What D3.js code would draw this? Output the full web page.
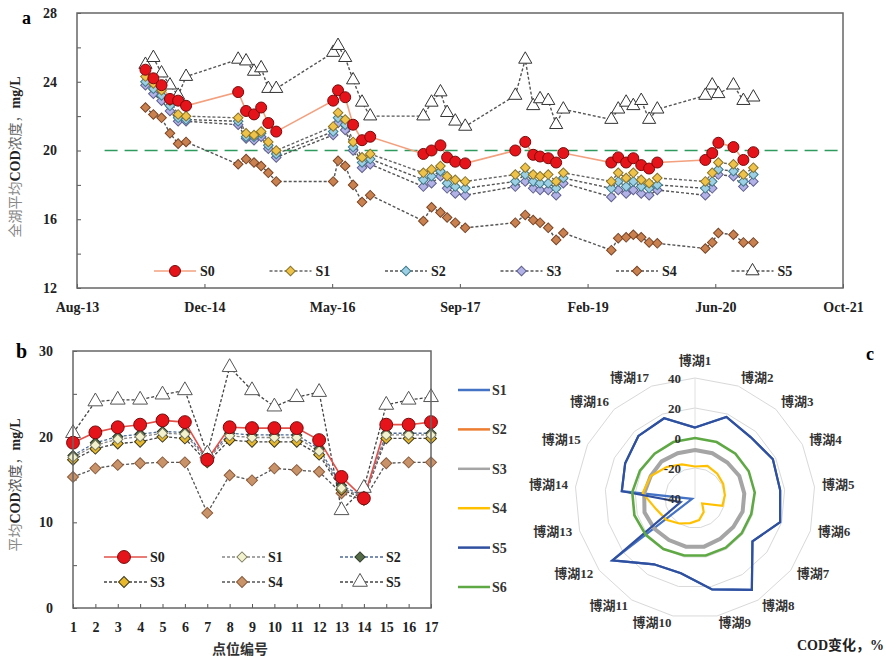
<!DOCTYPE html>
<html>
<head>
<meta charset="utf-8">
<script src="https://cdn.jsdelivr.net/npm/d3@7"></script>
<style>
  body { margin: 0; background: #fff; }
  svg text { font-family: "Liberation Serif", "Noto Sans CJK SC", serif; }
</style>
</head>
<body>
<svg id="chart" width="886" height="658"></svg>
<script>
// ---------- data : panel a (whole-lake mean COD by date) ----------
const seriesNames = ["S0", "S1", "S2", "S3", "S4", "S5"];
const datesA = [
  "2014-05-10","2014-06-10","2014-07-12","2014-08-14","2014-09-15","2014-10-16",
  "2015-05-08","2015-06-08","2015-07-09","2015-08-06","2015-09-03","2015-10-04",
  "2016-05-14","2016-06-02","2016-06-30","2016-07-31","2016-09-04","2016-10-06",
  "2017-05-02","2017-06-03","2017-07-08","2017-08-03","2017-09-04","2017-10-13",
  "2018-04-27","2018-06-05","2018-07-06","2018-08-02","2018-09-03","2018-10-04","2018-11-01",
  "2019-05-08","2019-06-04","2019-07-05","2019-08-02","2019-09-02","2019-10-03","2019-11-04",
  "2020-05-10","2020-06-06","2020-06-30","2020-08-28","2020-10-06","2020-11-14"
];
const a_S0 = [24.7,24.2,23.8,23.0,22.9,22.6, 23.4,22.3,22.1,22.5,21.6,21.1, 22.9,23.5,23.1,21.5,20.6,20.8,
  19.8,20.0,20.3,19.6,19.35,19.25, 20.0,20.5,19.75,19.65,19.55,19.3,19.85, 19.3,19.6,19.3,19.55,19.15,18.95,19.3,
  19.45,19.85,20.45,20.2,19.45,19.9];
const a_S1 = [24.3,23.9,23.5,22.9,22.1,22.0, 21.9,21.0,20.9,21.1,20.5,20.0, 21.4,22.2,21.8,20.5,19.6,19.8,
  18.7,18.9,19.1,18.5,18.3,18.2, 18.6,19.0,18.6,18.5,18.6,18.2,18.7, 18.2,18.7,18.4,18.7,18.3,18.1,18.4,
  18.2,18.7,19.3,19.2,18.6,19.0];
const a_S2 = [24.0,23.6,23.2,22.6,21.9,21.8, 21.7,20.8,20.8,21.0,20.3,19.8, 21.1,21.9,21.5,20.2,19.3,19.5,
  18.3,18.5,18.8,18.1,17.9,17.8, 18.2,18.6,18.2,18.1,18.1,17.8,18.4, 17.8,18.2,17.9,18.2,17.9,17.8,18.0,
  17.8,18.2,18.9,18.8,18.2,18.6];
const a_S3 = [23.8,23.3,22.9,22.3,21.7,21.7, 21.5,20.7,20.6,20.8,20.1,19.6, 20.9,21.6,21.2,20.0,19.0,19.2,
  17.9,18.1,18.5,17.8,17.5,17.4, 17.9,18.2,17.8,17.7,17.7,17.4,18.1, 17.3,17.7,17.5,17.7,17.5,17.4,17.7,
  17.4,17.8,18.6,18.5,17.9,18.2];
const a_S4 = [22.5,22.1,21.9,21.0,20.4,20.5, 19.2,19.5,19.3,19.1,18.7,18.2, 18.2,19.4,19.1,18.0,17.0,17.4,
  15.9,16.7,16.4,16.1,15.8,15.5, 15.8,16.25,15.95,15.8,15.5,14.8,15.2, 14.2,14.9,14.95,15.1,14.95,14.65,14.6,
  14.3,14.65,15.2,15.1,14.65,14.65];
const a_S5 = [25.0,25.4,24.5,23.8,23.2,24.3, 25.3,25.2,24.6,24.8,23.6,23.6, 25.7,26.1,25.4,24.1,22.8,22.0,
  22.0,22.8,23.4,22.2,21.7,21.4, 23.2,25.3,22.6,23.0,22.9,21.5,22.4, 21.8,22.4,22.8,22.6,22.9,21.8,22.4,
  23.2,23.8,23.3,23.8,22.9,23.1];
const thresholdA = 20;
const xTickDatesA = ["2013-08-15","2014-12-27","2016-05-10","2017-09-22","2019-02-04","2020-06-18","2021-10-31"];

// ---------- data : panel b (mean COD per site) ----------
const sites = d3.range(1, 18);
const b_S0 = [19.3,20.5,21.1,21.4,21.9,21.7,17.3,21.1,21.0,21.0,21.0,19.6,15.3,12.8,21.4,21.4,21.7];
const b_S1 = [17.6,19.0,19.7,20.0,20.4,20.3,17.3,20.1,19.9,19.9,19.9,18.3,14.0,12.9,20.2,20.2,20.2];
const b_S2 = [17.8,19.3,20.0,20.3,20.6,20.5,17.5,20.4,20.2,20.2,20.2,18.6,14.3,13.0,20.4,20.4,20.4];
const b_S3 = [17.3,18.6,19.2,19.4,20.0,19.8,17.0,19.6,19.4,19.4,19.4,17.9,13.8,12.8,19.8,19.8,19.8];
const b_S4 = [15.3,16.3,16.7,16.9,17.0,17.0,11.1,15.5,14.9,16.3,16.1,15.9,13.4,12.6,16.9,17.0,17.0];
const b_S5 = [20.4,24.1,24.3,24.3,24.9,25.4,18.0,28.1,25.4,23.5,24.6,25.2,11.4,14.0,23.7,24.3,24.6];

// ---------- data : panel c (COD change, %) ----------
const radarNames = ["S1", "S2", "S3", "S4", "S5", "S6"];
const radarLabels = sites.map(i => "博湖" + i);
const c_S1 = [7,18,15,18,17,19,8,32,22,11,12,29,-38,9,12,16,17];
const c_S2 = [-8,-8,-8,-7,-7,-7,-8,-8,-7,-7,-7,-6,-5,-6,-7,-7,-8];
const c_S3 = [-8,-8,-8,-7,-7,-7,-8,-8,-7,-7,-7,-6,-5,-6,-7,-7,-8];
const c_S4 = [-19,-17,-18,-19,-20,-21,-34,-29,-25,-23,-20,-16,-13,-5,-7,-12,-16];
const c_S5 = [7,18,15,18,17,19,8,32,22,11,12,29,-30,9,12,16,17];
const c_S6 = [0,0,0,0,0,-1,-1,-1,-1,-1,0,1,2,2,1,0,0];
const radarTicks = [40, 20, 0, -20, -40];

// ---------------------------------------------------------------
const svg = d3.select("#chart");
const parse = d3.timeParse("%Y-%m-%d");
const axisFont = "bold 14px 'Liberation Serif'";

function symbolPath(shape, size) {
  if (shape === "circle") return d3.symbol(d3.symbolCircle, size)();
  if (shape === "triangle") return d3.symbol(d3.symbolTriangle, size)();
  return d3.symbol(d3.symbolSquare, size)();
}
function drawMarker(g, shape, size, st, x, y) {
  g.append("path")
    .attr("d", symbolPath(shape, size))
    .attr("transform", `translate(${x},${y})` + (shape === "diamond" ? " rotate(45)" : ""))
    .attr("fill", st.fill).attr("stroke", st.stroke).attr("stroke-width", 1);
}

// ================= PANEL A =================
const A = { left: 77, right: 843, top: 13, bottom: 288 };
const xA = d3.scaleTime().domain([parse("2013-08-15"), parse("2021-10-31")]).range([A.left, A.right]);
const yA = d3.scaleLinear().domain([12, 28]).range([A.bottom, A.top]);

const styleA = {
  S0: { shape: "circle", size: 95, fill: "#e5141a", stroke: "#7a0a0a", line: "#f3a07e", dash: null },
  S1: { shape: "diamond", size: 46, fill: "#efc34a", stroke: "#8a7428", line: "#666", dash: "3,2" },
  S2: { shape: "diamond", size: 46, fill: "#9dd0e4", stroke: "#3e7c8c", line: "#555", dash: "3,2" },
  S3: { shape: "diamond", size: 46, fill: "#b3b2e6", stroke: "#5f6090", line: "#555", dash: "3,2" },
  S4: { shape: "diamond", size: 46, fill: "#c98150", stroke: "#7a4526", line: "#555", dash: "3,2" },
  S5: { shape: "triangle", size: 75, fill: "#ffffff", stroke: "#333", line: "#555", dash: "3,2" }
};
const valuesA = { S0: a_S0, S1: a_S1, S2: a_S2, S3: a_S3, S4: a_S4, S5: a_S5 };
const dataA = seriesNames.map(name => ({
  name, pts: datesA.map((d, i) => ({ date: parse(d), v: valuesA[name][i] }))
}));

const gA = svg.append("g");
// y axis (ticks inside)
gA.append("g")
  .attr("transform", `translate(${A.left},0)`)
  .call(d3.axisLeft(yA).tickValues(d3.range(12, 29, 2)).tickSize(-4).tickPadding(20)
    .tickFormat(d => d % 4 === 0 ? d : ""))
  .call(g => g.select(".domain").remove())
  .call(g => g.selectAll("line").attr("stroke", "#555"))
  .call(g => g.selectAll("text").style("font", axisFont).attr("fill", "#222"));
// x axis
gA.append("g")
  .attr("transform", `translate(0,${A.bottom})`)
  .call(d3.axisBottom(xA).tickValues(xTickDatesA.map(parse)).tickSize(-4).tickPadding(14)
    .tickFormat(d3.timeFormat("%b-%y")))
  .call(g => g.select(".domain").remove())
  .call(g => g.selectAll("line").attr("stroke", "#555"))
  .call(g => g.selectAll("text").style("font", axisFont).attr("fill", "#222"));

// threshold line
gA.append("line")
  .attr("x1", xA(parse("2013-12-01"))).attr("x2", xA(parse("2021-10-31")))
  .attr("y1", yA(thresholdA)).attr("y2", yA(thresholdA))
  .attr("stroke", "#2e9a5e").attr("stroke-width", 1.6).attr("stroke-dasharray", "13,7");

const lineA = d3.line().x(d => xA(d.date)).y(d => yA(d.v));
dataA.slice().reverse().forEach(s => {
  const st = styleA[s.name];
  gA.append("path").datum(s.pts).attr("d", lineA).attr("fill", "none")
    .attr("stroke", st.line).attr("stroke-width", st.dash ? 1.4 : 1.6)
    .attr("stroke-dasharray", st.dash);
});
dataA.slice().reverse().forEach(s => {
  const st = styleA[s.name];
  s.pts.forEach(p => drawMarker(gA, st.shape, st.size, st, xA(p.date), yA(p.v)));
});

// frame
gA.append("rect").attr("x", A.left).attr("y", A.top)
  .attr("width", A.right - A.left).attr("height", A.bottom - A.top)
  .attr("fill", "none").attr("stroke", "#666").attr("stroke-width", 1.5);

// legend a
seriesNames.forEach((name, i) => {
  const st = styleA[name];
  const tx = 200 + i * 115.5, ly = 271;
  gA.append("line").attr("x1", tx - 46).attr("x2", tx - 4).attr("y1", ly).attr("y2", ly)
    .attr("stroke", st.line).attr("stroke-width", 1.5).attr("stroke-dasharray", st.dash);
  drawMarker(gA, st.shape, st.size, st, tx - 25, ly);
  gA.append("text").attr("x", tx).attr("y", ly + 5).style("font", axisFont).attr("fill", "#222").text(name);
});

// titles a
svg.append("text").attr("x", 22).attr("y", 24).style("font", "bold 18px 'Liberation Serif'").text("a");
const yTitleA = svg.append("text").attr("transform", "translate(20,157) rotate(-90)")
  .attr("text-anchor", "middle").style("font-size", "14px");
yTitleA.append("tspan").attr("fill", "#888").style("font-family", "'Noto Sans CJK SC'").text("全湖平均");
yTitleA.append("tspan").attr("fill", "#222").style("font-weight", "bold").text("COD");
yTitleA.append("tspan").attr("fill", "#666").style("font-family", "'Noto Sans CJK SC'").text("浓度，");
yTitleA.append("tspan").attr("fill", "#222").style("font-weight", "bold").text("mg/L");

// ================= PANEL B =================
const B = { left: 73, right: 431, top: 351, bottom: 608 };
const xB = d3.scalePoint().domain(sites).range([B.left, B.right]);
const yB = d3.scaleLinear().domain([0, 30]).range([B.bottom, B.top]);

const styleB = {
  S0: { shape: "circle", size: 130, fill: "#e5141a", stroke: "#7a0a0a", line: "#e2504a", dash: null },
  S1: { shape: "diamond", size: 52, fill: "#f3f2cf", stroke: "#7d7d60", line: "#888", dash: "3,2" },
  S2: { shape: "diamond", size: 52, fill: "#566b48", stroke: "#2e3a28", line: "#4d6a96", dash: "3,2" },
  S3: { shape: "diamond", size: 60, fill: "#e8b82a", stroke: "#3d3a20", line: "#444", dash: "3,2" },
  S4: { shape: "diamond", size: 60, fill: "#c99369", stroke: "#8a5a3a", line: "#555", dash: "3,2" },
  S5: { shape: "triangle", size: 95, fill: "#ffffff", stroke: "#555", line: "#444", dash: "3,2" }
};
const valuesB = { S0: b_S0, S1: b_S1, S2: b_S2, S3: b_S3, S4: b_S4, S5: b_S5 };
const gB = svg.append("g");

gB.append("g")
  .attr("transform", `translate(${B.left},0)`)
  .call(d3.axisLeft(yB).tickValues(d3.range(0, 31, 5)).tickSize(-4).tickPadding(20)
    .tickFormat(d => d % 10 === 0 ? d : ""))
  .call(g => g.select(".domain").remove())
  .call(g => g.selectAll("line").attr("stroke", "#555"))
  .call(g => g.selectAll("text").style("font", axisFont).attr("fill", "#222"));
gB.append("g")
  .attr("transform", `translate(0,${B.bottom})`)
  .call(d3.axisBottom(xB).tickSize(-4).tickPadding(14))
  .call(g => g.select(".domain").remove())
  .call(g => g.selectAll("line").attr("stroke", "#555"))
  .call(g => g.selectAll("text").style("font", axisFont).attr("fill", "#222"));

const lineB = d3.line().x((d, i) => xB(sites[i])).y(d => yB(d));
seriesNames.slice().reverse().forEach(name => {
  const st = styleB[name];
  gB.append("path").datum(valuesB[name]).attr("d", lineB).attr("fill", "none")
    .attr("stroke", st.line).attr("stroke-width", st.dash ? 1.3 : 1.6)
    .attr("stroke-dasharray", st.dash);
});
seriesNames.slice().reverse().forEach(name => {
  const st = styleB[name];
  valuesB[name].forEach((v, i) => drawMarker(gB, st.shape, st.size, st, xB(sites[i]), yB(v)));
});

gB.append("rect").attr("x", B.left).attr("y", B.top)
  .attr("width", B.right - B.left).attr("height", B.bottom - B.top)
  .attr("fill", "none").attr("stroke", "#666").attr("stroke-width", 1.5);

// legend b (2 rows x 3 columns)
seriesNames.forEach((name, i) => {
  const st = styleB[name];
  const col = i % 3, row = Math.floor(i / 3);
  const tx = 150 + col * 118, ly = 557 + row * 25;
  gB.append("line").attr("x1", tx - 46).attr("x2", tx - 3).attr("y1", ly).attr("y2", ly)
    .attr("stroke", st.line).attr("stroke-width", 1.4).attr("stroke-dasharray", st.dash);
  drawMarker(gB, st.shape, st.size, st, tx - 26, ly);
  gB.append("text").attr("x", tx).attr("y", ly + 5).style("font", axisFont).attr("fill", "#222").text(name);
});

svg.append("text").attr("x", 16).attr("y", 358).style("font", "bold 20px 'Liberation Serif'").text("b");
const yTitleB = svg.append("text").attr("transform", "translate(20,485) rotate(-90)")
  .attr("text-anchor", "middle").style("font-size", "14px");
yTitleB.append("tspan").attr("fill", "#888").style("font-family", "'Noto Sans CJK SC'").text("平均");
yTitleB.append("tspan").attr("fill", "#222").style("font-weight", "bold").text("COD");
yTitleB.append("tspan").attr("fill", "#555").style("font-family", "'Noto Sans CJK SC'").text("浓度，");
yTitleB.append("tspan").attr("fill", "#222").style("font-weight", "bold").text("mg/L");
svg.append("text").attr("x", 240).attr("y", 654).attr("text-anchor", "middle")
  .style("font-family", "'Noto Sans CJK SC'").style("font-size", "14px").style("font-weight", "bold")
  .attr("fill", "#333").text("点位编号");

// ================= PANEL C (radar) =================
const C = { cx: 695, cy: 498, R: 120 };
const rC = d3.scaleLinear().domain([-40, 40]).range([0, C.R]);
const n = sites.length;
const ang = i => i * 2 * Math.PI / n;
const gC = svg.append("g").attr("transform", `translate(${C.cx},${C.cy})`);

// grid polygons
radarTicks.filter(t => t > -40).forEach(t => {
  gC.append("path")
    .attr("d", d3.lineRadial().angle((d, i) => ang(i)).radius(() => rC(t)).curve(d3.curveLinearClosed)(sites))
    .attr("fill", "none").attr("stroke", "#d9d9d9").attr("stroke-width", 1);
});
gC.append("line").attr("x1", 0).attr("y1", 0).attr("x2", 0).attr("y2", -C.R)
  .attr("stroke", "#e0e0e0").attr("stroke-width", 1);

const styleC = {
  S1: { color: "#4472c4", w: 2.2 },
  S2: { color: "#ed7d31", w: 2.2 },
  S3: { color: "#a5a5a5", w: 4 },
  S4: { color: "#ffc000", w: 2.2 },
  S5: { color: "#2f4f9f", w: 2.2 },
  S6: { color: "#5fa944", w: 2.6 }
};
const valuesC = { S1: c_S1, S2: c_S2, S3: c_S3, S4: c_S4, S5: c_S5, S6: c_S6 };
const radarLine = d3.lineRadial().angle((d, i) => ang(i)).radius(d => rC(d)).curve(d3.curveLinearClosed);
radarNames.forEach(name => {
  gC.append("path").datum(valuesC[name]).attr("d", radarLine).attr("fill", "none")
    .attr("stroke", styleC[name].color).attr("stroke-width", styleC[name].w)
    .attr("stroke-linejoin", "miter");
});

// radial tick labels
radarTicks.forEach(t => {
  gC.append("text").attr("x", -14).attr("y", -rC(t) + 5).attr("text-anchor", "end")
    .style("font", "bold 13px 'Liberation Serif'").attr("fill", "#333").text(t);
});

// category labels
radarLabels.forEach((lab, i) => {
  const a = ang(i), s = Math.sin(a), c = Math.cos(a);
  const x = 127.5 * s;
  let y = -2 - 128 * c;
  if (i === 0) y -= 8;
  gC.append("text").attr("x", x).attr("y", y + 5)
    .attr("text-anchor", s > 0.05 ? "start" : (s < -0.05 ? "end" : "middle"))
    .style("font", "bold 13px 'Liberation Serif', 'Noto Sans CJK SC'").attr("fill", "#333").text(lab);
});

// legend c
radarNames.forEach((name, i) => {
  const ly = 390 + i * 39.4;
  svg.append("line").attr("x1", 458).attr("x2", 490).attr("y1", ly).attr("y2", ly)
    .attr("stroke", styleC[name].color).attr("stroke-width", 2.5);
  svg.append("text").attr("x", 492).attr("y", ly + 5).style("font", axisFont).attr("fill", "#333").text(name);
});

svg.append("text").attr("x", 866).attr("y", 360).style("font", "bold 18px 'Liberation Serif'").text("c");
const cTitle = svg.append("text").attr("x", 884).attr("y", 650).attr("text-anchor", "end").style("font-size", "14px").attr("fill", "#222");
cTitle.append("tspan").style("font-weight", "bold").text("COD");
cTitle.append("tspan").style("font-family", "'Noto Sans CJK SC'").style("font-weight", "bold").text("变化，");
cTitle.append("tspan").style("font-weight", "bold").text("%");
</script>
</body>
</html>
